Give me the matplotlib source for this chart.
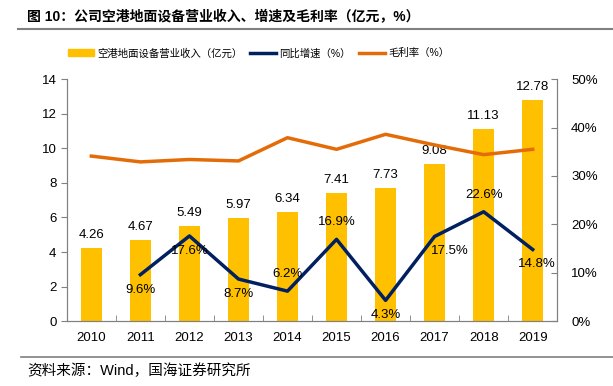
import matplotlib as mpl
mpl.use('Agg')
import matplotlib.pyplot as plt
from matplotlib.lines import Line2D
from matplotlib.patches import Patch
import numpy as np

plt.rcParams['font.family'] = ['Liberation Sans', 'Noto Sans CJK SC', 'DejaVu Sans']

years = ['2010', '2011', '2012', '2013', '2014', '2015', '2016', '2017', '2018', '2019']
revenue = [4.26, 4.67, 5.49, 5.97, 6.34, 7.41, 7.73, 9.08, 11.13, 12.78]
growth = [None, 9.6, 17.6, 8.7, 6.2, 16.9, 4.3, 17.5, 22.6, 14.8]
margin = [34.1, 32.9, 33.4, 33.1, 37.9, 35.5, 38.6, 36.4, 34.4, 35.5]
# label offsets for growth labels (points): below / above
growth_offsets = [None, (0, -15), (0, -15), (0, -15), (0, 8), (0, 8), (0, -15), (11, -15), (0, 8), (3, -15)]

bar_color = '#FFC000'
navy = '#002060'
orange = '#E36C09'
grey = '#808080'

fig = plt.figure(figsize=(6.13, 3.86), dpi=100)
ax = fig.add_axes([0.109, 0.168, 0.800, 0.627])
ax2 = ax.twinx()

x = np.arange(len(years))
ax.bar(x, revenue, width=0.42, color=bar_color, zorder=2)
for xi, v in zip(x, revenue):
    ax.annotate(f'{v:.2f}', (xi, v), xytext=(0, 5), textcoords='offset points',
                ha='center', va='bottom', fontsize=9.5)

ax.set_xlim(-0.5, len(years) - 0.5)
ax.set_ylim(0, 14)
ax.set_yticks(range(0, 15, 2))
ax.set_xticks(x)
ax.set_xticklabels(years)
ax.set_xticks(np.arange(-0.5, len(years), 1), minor=True)
ax.tick_params(axis='x', which='major', length=0, labelsize=9.5, pad=8)
ax.tick_params(axis='x', which='minor', length=4, color=grey, direction='in')
ax.tick_params(axis='y', length=4, color=grey, labelsize=9.5)

gx = [xi for xi, g in zip(x, growth) if g is not None]
gy = [g for g in growth if g is not None]
ax2.plot(gx, gy, color=navy, lw=2.5, zorder=3)
ax2.plot(x, margin, color=orange, lw=2.5, zorder=3)
for xi, g, off in zip(x, growth, growth_offsets):
    if g is None:
        continue
    ax2.annotate(f'{g}%', (xi, g), xytext=off, textcoords='offset points',
                 ha='center', va='bottom', fontsize=9.5)

ax2.set_ylim(0, 50)
ax2.set_yticks(range(0, 51, 10))
ax2.set_yticklabels([f'{v}%' for v in range(0, 51, 10)])
ax2.tick_params(axis='y', length=4, color=grey, direction='in', labelsize=9.5, pad=10)

for a in (ax, ax2):
    a.spines['top'].set_visible(False)
    for s in ('left', 'right', 'bottom'):
        a.spines[s].set_color(grey)

handles = [Patch(color=bar_color), Line2D([], [], color=navy, lw=2.5),
           Line2D([], [], color=orange, lw=2.5)]
labels = ['空港地面设备营业收入（亿元）', '同比增速（%）', '毛利率（%）']
fig.legend(handles, labels, loc='center', bbox_to_anchor=(0.422, 0.862), ncol=3,
           frameon=False, fontsize=7.5, handlelength=2.5, columnspacing=0.8,
           handletextpad=0.3)

fig.text(0.044, 0.955, '图 10：公司空港地面设备营业收入、增速及毛利率（亿元，%）',
         fontsize=10, fontweight='bold', va='center')
fig.add_artist(Line2D([0.03, 1.0], [0.925, 0.925], color=grey, lw=1.5))
fig.add_artist(Line2D([0.035, 1.0], [0.075, 0.075], color=grey, lw=1.2))
fig.text(0.044, 0.04, '资料来源：Wind，国海证券研究所', fontsize=10.5, va='center')

fig.savefig('out.png', dpi=100)
